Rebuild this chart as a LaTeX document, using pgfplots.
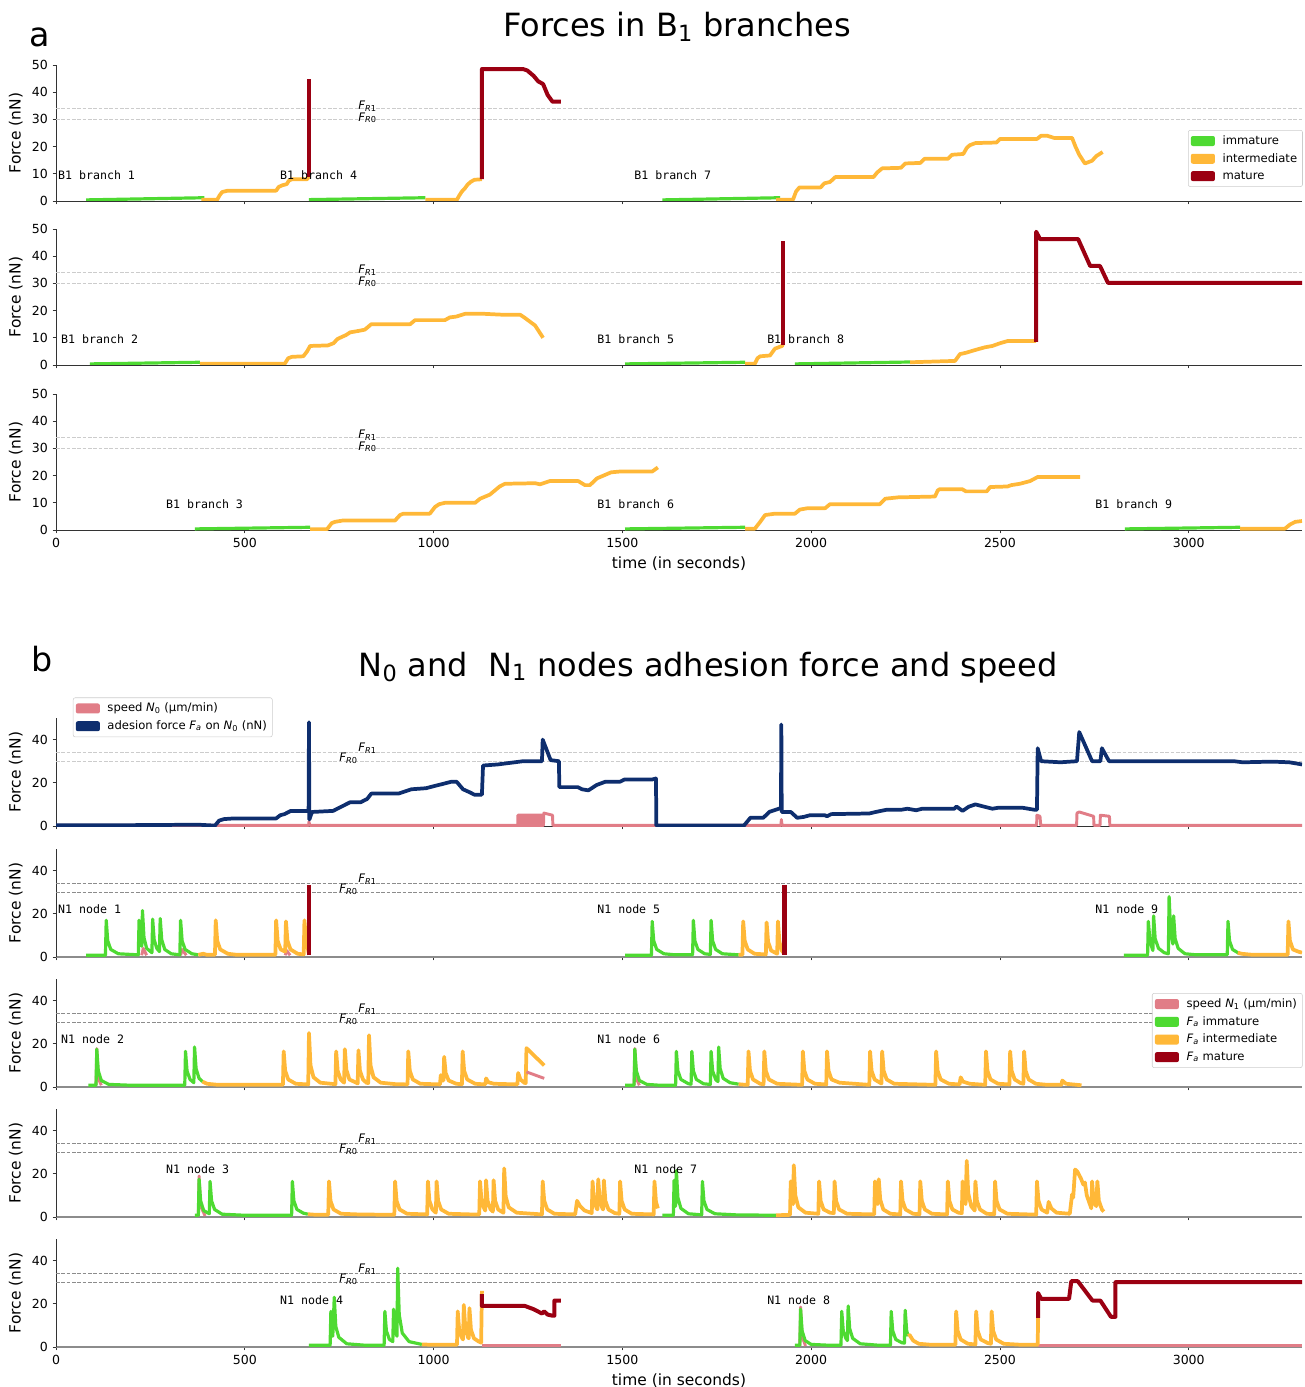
\documentclass[border=0pt]{standalone}
\usepackage{pgfplots}
\pgfplotsset{compat=1.18}
\usepackage{fontspec}
\setmainfont{DejaVu Sans}
\newfontfamily\monofont{DejaVu Sans Mono}
\definecolor{cgreen}{RGB}{78,218,50}
\definecolor{corange}{RGB}{255,184,56}
\definecolor{cred}{RGB}{155,0,18}
\definecolor{cnavy}{RGB}{14,46,110}
\definecolor{cpink}{RGB}{225,125,135}

\pgfplotsset{
  panel/.style={
    scale only axis, width=934.5pt, xmin=0, xmax=3300, ymin=0, ymax=50,
    axis x line*=bottom, axis y line*=left,
    axis line style={black!80, line width=0.6pt},
    tick align=outside, major tick length=2.6pt,
    tick style={black!80, line width=0.6pt},
    xtick={0,500,...,3000}, minor tick num=0,
    tick label style={font=\fontsize{9.4}{11}\selectfont},
    /pgf/number format/assume math mode=true,
    /pgf/number format/set thousands separator={},
    ylabel={Force (nN)},
    ylabel style={font=\fontsize{11.6}{13}\selectfont},
    xlabel style={font=\fontsize{11.6}{13}\selectfont},
    legend cell align=left,
    legend image code/.code={\fill[##1, draw=none] (0pt,-3.75pt) rectangle (18pt,3.75pt); \path (21.5pt,0pt);},
    legend style={draw=black!20, rounded corners=1.5pt, fill=white,
      font=\fontsize{8.7}{10}\selectfont, inner sep=2pt, row sep=1.2pt},
  },
  pa/.style={panel, height=102pt, ytick={0,10,...,50}},
  pb/.style={panel, height=81pt, ytick={0,20,40}},
  sg/.style={forget plot, no markers, cgreen, line width=2.4pt, line join=round},
  so/.style={forget plot, no markers, corange, line width=2.8pt, line join=round},
  sr/.style={forget plot, no markers, cred, line width=3pt, line join=round},
  sn/.style={forget plot, no markers, cnavy, line width=2.8pt, line join=round},
  sp/.style={forget plot, no markers, cpink, line width=2.2pt, line join=round},
  dl/.style={forget plot, no markers, black!20, line width=0.75pt, dash pattern=on 2.8pt off 1.2pt},
  dd/.style={forget plot, no markers, black!45, line width=0.75pt, dash pattern=on 2.8pt off 1.2pt},
}
\newcommand{\lab}[3]{\node[anchor=west,inner sep=0pt,font=\monofont\fontsize{8.7}{10}\selectfont] at (#1,#2) {#3};}
\newcommand{\fra}{%
  \node[anchor=base west,inner sep=0pt,font=\fontsize{8.8}{10}\selectfont] at (800,33.6) {\textit{F}\textsubscript{\textit{R}1}};
  \node[anchor=base west,inner sep=0pt,font=\fontsize{8.8}{10}\selectfont] at (800,29.4) {\textit{F}\textsubscript{\textit{R}0}};}
\newcommand{\frb}{%
  \node[anchor=base west,inner sep=0pt,font=\fontsize{8.8}{10}\selectfont] at (800,34.4) {\textit{F}\textsubscript{\textit{R}1}};
  \node[anchor=base east,inner sep=0pt,font=\fontsize{8.8}{10}\selectfont] at (800,30) {\textit{F}\textsubscript{\textit{R}0}};}

\begin{document}
\begin{tikzpicture}
\useasboundingbox (0,0) rectangle (978pt,-1040.25pt);

% ---------- a1 ----------
\begin{axis}[pa, at={(42pt,-150.75pt)}, anchor=south west, xticklabels={},
  legend style={at={(0.9085,0.522)}, anchor=north west}]
\addlegendimage{fill=cgreen}\addlegendentry{immature}
\addlegendimage{fill=corange}\addlegendentry{intermediate}
\addlegendimage{fill=cred}\addlegendentry{mature}
\addplot[dl] coordinates {(0,34) (3300,34)};
\addplot[dl] coordinates {(0,30) (3300,30)};
\addplot[sg] coordinates {(80,0.4) (393,1.2)};
\addplot[so] coordinates {(385,0.5) (427,0.5) (433,2) (440,3.3) (455,3.8) (583,3.8) (590,5.2) (600,5.8) (611,6.2) (617,7.5) (625,8) (665,8) (670,9)};
\addplot[sr] coordinates {(670,9) (670,45)};
\addplot[sg] coordinates {(670,0.5) (978,1.2)};
\addplot[so] coordinates {(978,0.5) (1062,0.5) (1068,2) (1075,3.5) (1082,4.5) (1090,6) (1098,7) (1108,7.8) (1128,8)};
\addplot[sr] coordinates {(1128,8) (1128,48.5) (1237,48.5) (1248,48) (1265,46) (1277,44) (1290,43) (1302,39) (1315,36.5) (1337,36.5)};
\addplot[sg] coordinates {(1606,0.4) (1918,1.2)};
\addplot[so] coordinates {(1907,0.5) (1952,0.5) (1960,3.5) (1969,5) (2025,5) (2035,6.5) (2050,7) (2064,8.8) (2165,8.8) (2175,10.5) (2188,12) (2238,12.2) (2249,13.8) (2289,14) (2300,15.5) (2362,15.5) (2373,17) (2403,17.3) (2412,19.5) (2420,20.5) (2435,21.3) (2491,21.5) (2500,22.8) (2598,22.8) (2609,24) (2625,24) (2643,23.2) (2691,23.2) (2700,20) (2710,17) (2725,13.8) (2744,14.8) (2755,16.5) (2772,18)};
\lab{5}{9.5}{B1 branch 1}
\lab{593}{9.5}{B1 branch 4}
\lab{1531}{9.5}{B1 branch 7}
\fra
\end{axis}

% ---------- a2 ----------
\begin{axis}[pa, at={(42pt,-273.75pt)}, anchor=south west, xticklabels={}]
\addplot[dl] coordinates {(0,34) (3300,34)};
\addplot[dl] coordinates {(0,30) (3300,30)};
\addplot[sg] coordinates {(90,0.4) (381,1.0)};
\addplot[so] coordinates {(381,0.5) (606,0.5) (615,2.5) (625,3) (655,3.2) (665,5) (673,7) (720,7.2) (735,8) (745,9.5) (752,10) (768,11) (779,12) (800,12.5) (818,13) (835,15) (938,15) (951,16.5) (1030,16.5) (1043,17.5) (1060,17.8) (1083,18.8) (1136,18.8) (1180,18.5) (1229,18.5) (1240,17.5) (1269,14.5) (1290,10)};
\addplot[sg] coordinates {(1507,0.4) (1825,1.0)};
\addplot[so] coordinates {(1825,0.5) (1851,0.5) (1858,2.5) (1865,3.2) (1891,3.5) (1904,6) (1923,7) (1925,7.5)};
\addplot[sr] coordinates {(1925,7.5) (1925,45.5)};
\addplot[sg] coordinates {(1957,0.4) (2262,1.1)};
\addplot[so] coordinates {(2262,1) (2381,1.5) (2394,4) (2410,4.5) (2434,5.5) (2460,6.5) (2480,7) (2500,8) (2520,8.8) (2596,8.8)};
\addplot[sr] coordinates {(2596,8.5) (2596,49) (2606,46.3) (2707,46.3) (2739,36.4) (2765,36.4) (2786,30.2) (3300,30.2)};
\lab{13}{9.5}{B1 branch 2}
\lab{1433}{9.5}{B1 branch 5}
\lab{1883}{9.5}{B1 branch 8}
\fra
\end{axis}

% ---------- a3 ----------
\begin{axis}[pa, at={(42pt,-397.5pt)}, anchor=south west, xlabel={time (in seconds)}]
\addplot[dl] coordinates {(0,34) (3300,34)};
\addplot[dl] coordinates {(0,30) (3300,30)};
\addplot[sg] coordinates {(368,0.4) (673,1.0)};
\addplot[so] coordinates {(673,0.3) (718,0.3) (730,2.5) (739,3) (760,3.5) (898,3.5) (911,5.5) (920,6) (990,6) (1004,8.5) (1015,9.5) (1030,10) (1110,10) (1123,11.5) (1149,13) (1162,14.5) (1175,16) (1189,17) (1269,17.2) (1282,16.8) (1308,18) (1383,18) (1401,16.5) (1414,16.5) (1433,19) (1450,20) (1470,21.2) (1494,21.5) (1579,21.5) (1594,23)};
\addplot[sg] coordinates {(1507,0.4) (1825,1.0)};
\addplot[so] coordinates {(1825,0.5) (1851,0.5) (1865,3) (1878,5.5) (1904,6) (1957,6) (1970,7.5) (1990,8) (2037,8) (2050,9.5) (2182,9.5) (2196,11.5) (2230,12) (2328,12.3) (2335,14.5) (2340,15) (2400,15) (2410,14.2) (2465,14.2) (2474,15.8) (2520,16) (2530,16.5) (2553,17) (2580,18) (2600,19.5) (2712,19.5)};
\addplot[sg] coordinates {(2831,0.4) (3136,1.0)};
\addplot[so] coordinates {(3136,0.5) (3255,0.5) (3268,2) (3282,3) (3300,3.3)};
\lab{291}{9.5}{B1 branch 3}
\lab{1433}{9.5}{B1 branch 6}
\lab{2752}{9.5}{B1 branch 9}
\fra
\end{axis}

% ---------- b1 ----------
\begin{axis}[pb, at={(42pt,-619.5pt)}, anchor=south west, xticklabels={},
  legend style={at={(0.0136,1.19)}, anchor=north west}]
\addlegendimage{fill=cpink}\addlegendentry{speed \textit{N}\textsubscript{0} (µm/min)}
\addlegendimage{fill=cnavy}\addlegendentry{adesion force \textit{F}\textsubscript{\textit{a}} on \textit{N}\textsubscript{0} (nN)}
\addplot[dl] coordinates {(0,34) (3300,34)};
\addplot[dl] coordinates {(0,30) (3300,30)};
\addplot[sp, fill=cpink, line width=1pt] coordinates {(1223,0.3) (1223,5) (1287,5) (1287,0.3)} \closedcycle;
\addplot[sp] coordinates {(0,0.3) (669,0.3) (670,2) (672,0.3) (1223,0.3) (1223,5) (1287,5) (1287,0.3) (1291,0.3) (1292,6) (1315,5) (1316,0.3) (1920,0.3) (1921,3) (1923,0.3) (2597,0.3) (2598,5) (2606,4.5) (2608,0.3) (2703,0.3) (2704,6) (2710,6.5) (2748,4.5) (2749,0.3) (2765,0.3) (2766,5) (2790,4.5) (2791,0.3) (3300,0.3)};
\addplot[sn] coordinates {(0,0.3) (200,0.4) (377,0.6) (421,0.2) (432,2.5) (445,3.2) (470,3.5) (583,3.5) (594,5) (605,5.5) (622,7) (665,7) (669,7.5) (670,48) (671,3) (678,6.5) (734,7) (745,8) (762,9.5) (779,11) (807,11) (818,12) (824,12.5) (835,15) (907,15) (924,16) (941,17) (980,17.5) (1002,18.5) (1025,19.5) (1047,20.5) (1061,20.5) (1078,17) (1097,15.5) (1108,14.5) (1128,14.5) (1131,28) (1170,28.5) (1192,29) (1215,29.5) (1237,30) (1287,30) (1289,40) (1310,30.5) (1332,30) (1333,18) (1382,18) (1393,17) (1410,16.5) (1432,19) (1455,20.5) (1494,20.5) (1505,21.5) (1578,21.5) (1589,22) (1590,0.2) (1822,0.2) (1839,3.8) (1873,3.8) (1890,6.6) (1918,8.2) (1920,8.5) (1921,47) (1922,6.5) (1946,6.5) (1963,3.8) (1980,4.2) (1997,5) (2036,5) (2042,4.5) (2053,5.5) (2154,5.8) (2171,6.5) (2199,7.5) (2238,7.5) (2255,8) (2278,7.3) (2294,8) (2379,8) (2385,9) (2401,7) (2418,9) (2435,10) (2457,9) (2480,8) (2497,8.5) (2558,8.5) (2592,7.5) (2598,7.5) (2600,36) (2609,30) (2660,29.5) (2704,30) (2710,43.5) (2744,30) (2766,30) (2770,36) (2789,30) (3120,30) (3143,29.5) (3221,29.8) (3266,29.5) (3300,28.5)};
\frb
\end{axis}

% ---------- b2 ----------
\begin{axis}[pb, at={(42pt,-717.75pt)}, anchor=south west, xticklabels={},
  x axis line style={black!45, line width=1.2pt}]
\addplot[dd] coordinates {(0,34) (3300,34)};
\addplot[dd] coordinates {(0,30) (3300,30)};
\addplot[sp] coordinates {(227,0.8) (231,4) (240,0.8)};
\addplot[sp] coordinates {(330,0.8) (334,3.5) (345,0.8)};
\addplot[sp] coordinates {(607,0.8) (611,3) (620,0.8)};
\addplot[sg] coordinates {(80,0.8) (131,0.8) (133,17) (137,7.5) (145,3.5) (165,1.5) (218,1) (220,17) (223,9) (227,5) (229,21.5) (233,9) (240,4) (254,2) (256,17.5) (260,8) (267,4) (274,2.5) (276,17.8) (280,8) (288,3.5) (305,1.5) (328,1) (330,17) (334,7.5) (342,3.5) (360,1.5) (377,1)};
\addplot[so] coordinates {(377,1) (390,1.5) (400,1) (421,1) (423,17) (427,7.5) (435,3.5) (455,1.5) (480,1) (581,1) (583,17) (587,7.5) (595,3.5) (607,2.5) (609,16.5) (613,7.5) (621,3.5) (640,1.5) (656,1.2) (658,17) (662,8) (668,3) (670,1)};
\addplot[sr, line width=3.5pt] coordinates {(670,1) (670,33.5)};
\addplot[sg] coordinates {(1507,0.8) (1577,0.8) (1579,16.5) (1583,7.5) (1591,3.5) (1610,1.5) (1640,1) (1686,1) (1688,17) (1692,7.5) (1700,3.5) (1718,1.5) (1733,1.2) (1735,17) (1739,7.5) (1747,3.5) (1765,1.5) (1808,1)};
\addplot[so] coordinates {(1808,1) (1818,1) (1820,16.5) (1824,7.5) (1832,3.5) (1850,1.5) (1880,1.2) (1882,16) (1886,7) (1894,3) (1910,1.5) (1912,16.5) (1916,7) (1922,3) (1929,1.5)};
\addplot[sr, line width=3.5pt] coordinates {(1929,1) (1929,33.5)};
\addplot[sg] coordinates {(2828,0.8) (2891,0.8) (2893,16.5) (2897,8) (2903,4) (2905,3) (2907,19) (2911,8.5) (2920,4) (2935,2) (2946,1.5) (2948,28) (2952,12) (2958,6) (2960,19) (2964,8.5) (2972,4) (2990,1.5) (3020,1) (3102,1) (3104,16.5) (3108,7.5) (3116,3.5) (3130,2) (3135,1.5)};
\addplot[so] coordinates {(3130,2) (3140,1.5) (3170,1) (3262,1) (3264,16.5) (3268,7.5) (3276,3.5) (3290,2.5) (3300,2)};
\lab{5}{22.2}{N1 node 1}
\lab{1433}{22.2}{N1 node 5}
\lab{2752}{22.2}{N1 node 9}
\frb
\end{axis}

% ---------- b3 ----------
\begin{axis}[pb, at={(42pt,-815.25pt)}, anchor=south west, xticklabels={},
  x axis line style={black!45, line width=1.2pt},
  legend style={at={(0.8796,0.87)}, anchor=north west}]
\addlegendimage{fill=cpink}\addlegendentry{speed \textit{N}\textsubscript{1} (µm/min)}
\addlegendimage{fill=cgreen}\addlegendentry{\textit{F}\textsubscript{\textit{a}} immature}
\addlegendimage{fill=corange}\addlegendentry{\textit{F}\textsubscript{\textit{a}} intermediate}
\addlegendimage{fill=cred}\addlegendentry{\textit{F}\textsubscript{\textit{a}} mature}
\addplot[dd] coordinates {(0,34) (3300,34)};
\addplot[dd] coordinates {(0,30) (3300,30)};
\addplot[sp] coordinates {(106,0.8) (108,17.8) (112,4) (120,0.8)};
\addplot[sg] coordinates {(86,0.8) (106,0.8) (108,17.5) (112,7.5) (120,3) (140,1.2) (200,0.8) (341,0.8) (343,16.5) (347,7.5) (355,3.5) (365,2) (367,18.5) (371,8.5) (379,4) (388,2.5)};
\addplot[so] coordinates {(388,2.5) (400,1.5) (430,1) (601,1) (603,16.5) (607,7.5) (615,3.5) (635,1.5) (668,1.2) (670,25) (674,10) (682,4.5) (700,2) (740,1.3) (742,16.5) (746,7.5) (754,3.5) (763,2) (765,17.5) (769,8) (777,3.5) (795,2) (799,1.6) (801,17) (805,7.5) (813,3.5) (822,2) (827,1.8) (829,24) (833,10) (841,4.5) (860,2) (900,1.3) (931,1.2) (933,16.5) (937,7.5) (945,3.5) (965,1.5) (1017,1.2) (1019,5.5) (1024,3) (1026,3) (1028,14) (1032,6.5) (1040,3) (1060,1.5) (1075,1.3) (1077,16.5) (1081,7.5) (1089,3.5) (1110,1.5) (1137,1.2) (1139,4) (1145,2.2) (1160,1.5) (1222,1.2) (1224,6.5) (1230,3.5) (1240,2) (1244,1.8) (1246,18) (1293,10)};
\addplot[sp] coordinates {(1246,7) (1293,4)};
\addplot[sp] coordinates {(1531,0.8) (1533,17.8) (1537,4) (1545,0.8)};
\addplot[sg] coordinates {(1507,0.8) (1531,0.8) (1533,17.5) (1537,7.5) (1545,3) (1565,1.2) (1600,0.8) (1641,0.8) (1643,16.5) (1647,7.5) (1655,3.5) (1675,1.5) (1682,1.3) (1684,16.5) (1688,7.5) (1696,3.5) (1715,1.5) (1733,1.2) (1735,16.5) (1739,7.5) (1747,3.5) (1753,2.5) (1755,18.5) (1759,8.5) (1767,4) (1785,2) (1808,1.3)};
\addplot[so] coordinates {(1808,1.3) (1820,1.1) (1832,1) (1834,16.5) (1838,7.5) (1846,3.5) (1865,1.5) (1874,1.3) (1876,16.5) (1880,7.5) (1888,3.5) (1910,1.5) (1976,1) (1978,16.5) (1982,7.5) (1990,3.5) (2010,1.5) (2040,1.2) (2042,16.5) (2046,7.5) (2054,3.5) (2075,2) (2154,1) (2156,16.5) (2160,7.5) (2168,3.5) (2186,1.6) (2188,16.5) (2192,7.5) (2200,3.5) (2220,1.5) (2329,1) (2331,16.5) (2335,7.5) (2343,3.5) (2365,1.5) (2393,1.2) (2396,4.5) (2402,2.5) (2420,1.5) (2461,1) (2463,16.5) (2467,7.5) (2475,3.5) (2495,1.5) (2525,1.2) (2527,16.5) (2531,7.5) (2539,3.5) (2555,1.8) (2562,1.5) (2564,16.5) (2568,7.5) (2576,3.5) (2595,1.5) (2620,1.1) (2663,1) (2665,3) (2675,1.5) (2716,0.8)};
\lab{13}{22.2}{N1 node 2}
\lab{1433}{22.2}{N1 node 6}
\frb
\end{axis}

% ---------- b4 ----------
\begin{axis}[pb, at={(42pt,-912.75pt)}, anchor=south west, xticklabels={},
  x axis line style={black!45, line width=1.2pt}]
\addplot[dd] coordinates {(0,34) (3300,34)};
\addplot[dd] coordinates {(0,30) (3300,30)};
\addplot[sp] coordinates {(377,0.5) (379,19) (383,5) (395,0.5)};
\addplot[sg] coordinates {(368,0.8) (377,0.8) (379,17.5) (383,7.5) (391,3) (406,1.5) (408,16.5) (412,7.5) (420,3.5) (440,1.3) (500,0.8) (624,0.8) (626,16.5) (630,7.5) (638,3.5) (655,1.8) (667,1.3)};
\addplot[so] coordinates {(667,1.3) (690,1) (721,1) (723,16.5) (727,7.5) (735,3.5) (755,1.5) (800,1.2) (896,1) (898,16.5) (902,7.5) (910,3.5) (930,1.5) (983,1.2) (985,16.5) (989,7.5) (997,3.5) (1006,2) (1008,16.5) (1012,7.5) (1020,3.5) (1040,1.5) (1100,1.2) (1121,1.2) (1123,16.5) (1127,7.5) (1135,3.5) (1137,3) (1139,17) (1143,7.5) (1151,3.5) (1157,2.5) (1159,17) (1163,7.5) (1171,3.5) (1180,2.5) (1185,2) (1187,22.5) (1191,9.5) (1199,4.5) (1220,2) (1287,1.2) (1289,16.5) (1293,7.5) (1301,3.5) (1320,1.5) (1375,1.2) (1380,7.5) (1388,5) (1400,3) (1419,1.8) (1421,16.5) (1425,7.5) (1432,4) (1434,3.5) (1436,17.5) (1440,8) (1447,4) (1449,3.5) (1451,17) (1455,7.5) (1463,3.5) (1480,1.8) (1492,1.5) (1494,16.5) (1498,7.5) (1506,3.5) (1525,1.5) (1583,1.2) (1585,16.5) (1589,7) (1594,4)};
\addplot[sg] coordinates {(1606,0.8) (1635,0.8) (1637,17) (1640,6) (1641,5) (1643,21.5) (1647,9) (1655,4) (1675,1.5) (1710,1) (1712,16.5) (1716,7.5) (1724,3.5) (1745,1.5) (1800,1) (1907,0.8)};
\addplot[so] coordinates {(1907,0.8) (1944,1) (1946,16.5) (1949,7) (1952,6) (1954,24) (1958,10) (1966,4.5) (1985,2) (2019,1.5) (2021,16.5) (2025,7.5) (2033,3.5) (2050,2) (2060,1.8) (2062,16.5) (2066,7.5) (2074,3.5) (2095,1.5) (2167,1.2) (2169,16.5) (2173,7) (2176,6) (2179,17.5) (2183,8) (2191,3.5) (2210,1.5) (2236,1.2) (2238,16.5) (2242,7.5) (2250,3.5) (2270,1.5) (2287,1.3) (2289,16.5) (2293,7.5) (2301,3.5) (2320,1.5) (2360,1.2) (2362,16.5) (2366,7.5) (2374,3.5) (2390,2) (2399,1.8) (2401,16.5) (2405,7.5) (2409,6) (2412,26) (2416,11) (2424,5) (2433,3) (2435,16.5) (2439,7.5) (2447,3.5) (2465,1.5) (2485,1.3) (2487,16.5) (2491,7.5) (2499,3.5) (2520,1.5) (2596,1.1) (2598,16.5) (2602,7.5) (2610,3.5) (2625,2) (2629,7) (2636,4) (2650,2) (2685,1.5) (2691,10.5) (2694,9) (2699,22) (2705,21) (2714,18) (2721,15) (2725,16) (2730,10) (2740,5) (2742,4) (2744,16.5) (2748,7.5) (2755,5) (2758,16.5) (2762,7.5) (2770,3.5) (2775,2.5)};
\lab{291}{22.2}{N1 node 3}
\lab{1531}{22.2}{N1 node 7}
\frb
\end{axis}

% ---------- b5 ----------
\begin{axis}[pb, at={(42pt,-1010.25pt)}, anchor=south west, xlabel={time (in seconds)},
  x axis line style={black!45, line width=1.2pt}]
\addplot[dd] coordinates {(0,34) (3300,34)};
\addplot[dd] coordinates {(0,30) (3300,30)};
\addplot[sp] coordinates {(1128,0.6) (1337,0.6)};
\addplot[sp] coordinates {(2601,0.6) (3300,0.6)};
\addplot[sg] coordinates {(670,0.8) (726,0.8) (728,16.5) (731,7) (733,5) (737,23) (741,9.5) (749,4.5) (770,1.5) (820,0.8) (869,0.8) (871,16.5) (875,7.5) (883,3.5) (892,2.5) (894,17.5) (898,8) (903,5) (905,36.5) (909,15) (917,6.5) (935,2.5) (969,1.2)};
\addplot[so] coordinates {(969,1.2) (1000,1) (1062,1) (1064,16.5) (1068,7.5) (1076,4) (1078,3.5) (1080,19.5) (1084,9) (1091,4.5) (1093,4) (1095,18) (1099,8) (1107,4) (1120,2.5) (1126,2) (1128,26)};
\addplot[sr] coordinates {(1128,24.5) (1128,19) (1242,19) (1265,17.5) (1287,15.5) (1293,16.5) (1302,15) (1315,14.5) (1320,14.5) (1320,21.5) (1337,21.5)};
\addplot[sp] coordinates {(1970,0.5) (1972,18.5) (1976,5) (1985,0.5)};
\addplot[sg] coordinates {(1957,0.8) (1970,0.8) (1972,17.5) (1976,7.5) (1984,3) (2000,1.2) (2050,0.8) (2079,0.8) (2081,16.5) (2085,7.5) (2092,4) (2096,3) (2098,19) (2102,8.5) (2110,4) (2130,1.5) (2180,0.8) (2210,0.8) (2212,16.5) (2216,7.5) (2224,3.5) (2240,2) (2247,1.8) (2249,17) (2253,7.5) (2257,5)};
\addplot[so] coordinates {(2257,5) (2261,5.5) (2270,3) (2285,1.5) (2320,1) (2382,1) (2384,16.5) (2388,7.5) (2396,3.5) (2415,1.5) (2435,1.2) (2437,16.5) (2441,7.5) (2449,3.5) (2468,1.8) (2476,1.5) (2478,16.5) (2482,7.5) (2490,3.5) (2510,1.5) (2560,1) (2600,1) (2601,13.5)};
\addplot[sr] coordinates {(2601,13.5) (2601,25) (2609,22.3) (2683,22.3) (2689,30.5) (2706,30.5) (2745,21.5) (2766,21.5) (2794,14) (2806,14) (2806,30) (3300,30)};
\lab{593}{21.8}{N1 node 4}
\lab{1883}{21.8}{N1 node 8}
\frb
\end{axis}

\node[anchor=base, font=\fontsize{25}{30}\selectfont] at (30pt,-35.25pt) {a};
\node[anchor=base, font=\fontsize{24}{29}\selectfont] at (507.75pt,-27.75pt) {Forces in B\textsubscript{1} branches};
\node[anchor=base, font=\fontsize{25}{30}\selectfont] at (31.5pt,-503.25pt) {b};
\node[anchor=base, font=\fontsize{24}{29}\selectfont] at (531pt,-507pt) {N\textsubscript{0} and\ \ N\textsubscript{1} nodes adhesion force and speed};
\end{tikzpicture}
\end{document}
